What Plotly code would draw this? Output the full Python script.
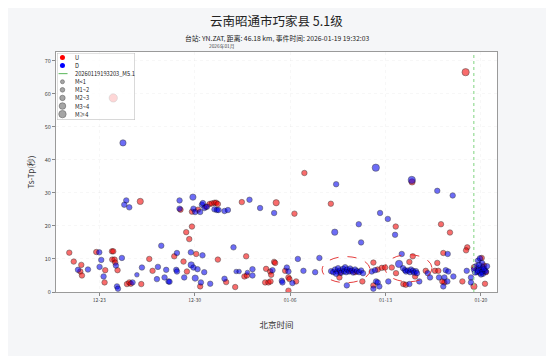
import plotly.graph_objects as go

# ---------------- text ----------------
TITLE = "云南昭通市巧家县 5.1级"
SUBTITLE = "台站: YN.ZAT, 距离: 46.18 km, 事件时间: 2026-01-19 19:32:03"
OFFSET_LABEL = "2026年01月"
X_TITLE = "北京时间"
Y_TITLE = "Ts-Tp(秒)"
EVENT_TIME = "2026-01-19 11:32:03"
EVENT_LABEL = "20260119193203_M5.1"

tick_dates = ["2025-12-23", "2025-12-30", "2026-01-06", "2026-01-13", "2026-01-20"]
tick_labels = ["12-23", "12-30", "01-06", "01-13", "01-20"]
x_range = ["2025-12-19 19:48", "2026-01-21 04:20"]
y_range = [0, 72.6]

mag_labels = ["M<1", "M1~2", "M2~3", "M3~4", "M≥4"]
mag_edges = [1, 2, 3, 4]

# ---------------- U (red) ----------------
u_time = [
    "2025-12-20 19:10", "2025-12-21 03:00", "2025-12-21 16:20", "2025-12-21 14:35", "2025-12-21 17:30",
    "2025-12-22 18:40", "2025-12-23 10:30", "2025-12-23 09:20", "2025-12-23 22:20", "2025-12-24 00:40",
    "2025-12-23 22:50", "2025-12-24 02:55", "2025-12-24 04:05", "2025-12-24 08:10", "2025-12-25 00:45",
    "2025-12-25 04:50", "2025-12-25 07:25", "2025-12-26 00:10", "2025-12-26 01:55", "2025-12-26 16:00",
    "2025-12-26 21:50", "2025-12-24 00:40", "2025-12-28 23:00", "2025-12-29 19:10", "2025-12-30 05:45",
    "2025-12-30 19:40", "2025-12-31 02:10", "2025-12-31 06:15", "2025-12-31 10:50", "2025-12-31 13:55",
    "2025-12-31 16:50", "2026-01-02 11:00", "2026-01-04 23:30", "2025-12-29 19:10", "2025-12-29 09:05",
    "2025-12-29 14:25", "2025-12-28 12:00", "2025-12-30 02:40", "2025-12-29 04:20", "2025-12-31 16:50",
    "2026-01-02 18:40", "2026-01-04 19:55", "2025-12-29 10:20", "2025-12-30 09:40", "2026-01-01 07:25",
    "2026-01-01 23:20", "2026-01-02 15:35", "2026-01-02 19:55", "2026-01-04 05:45", "2026-01-04 12:55",
    "2026-01-04 14:40", "2026-01-04 04:05", "2026-01-04 09:50", "2026-01-04 13:30", "2026-01-07 01:10",
    "2026-01-06 07:40", "2026-01-08 23:45", "2026-01-12 02:40", "2026-01-04 21:40", "2026-01-05 15:20",
    "2026-01-05 21:05", "2026-01-05 22:50", "2026-01-06 10:35", "2026-01-05 21:05", "2026-01-09 14:50",
    "2026-01-11 07:15", "2026-01-12 10:20", "2026-01-12 17:30", "2026-01-12 02:40", "2026-01-09 16:05",
    "2026-01-10 09:40", "2026-01-10 18:25", "2026-01-14 22:45", "2026-01-13 18:00", "2026-01-17 01:45",
    "2026-01-17 17:30", "2026-01-19 00:00", "2026-01-18 21:50", "2026-01-15 00:00", "2026-01-17 05:45",
    "2026-01-20 01:25", "2026-01-14 18:00", "2026-01-12 23:15", "2026-01-13 11:00", "2026-01-13 18:30",
    "2026-01-15 04:05", "2026-01-15 22:50", "2026-01-16 15:10", "2026-01-16 21:05", "2026-01-16 19:10",
    "2026-01-17 07:40", "2026-01-17 04:05", "2026-01-18 15:20", "2026-01-19 11:45", "2026-01-20 07:10",
    "2026-01-14 07:25", "2026-01-14 11:45", "2026-01-18 21:05", "2026-01-19 11:45", "2026-01-20 05:30",
    "2026-01-20 08:50",
]
u_tstp = [
    11.9, 9.2, 8.2, 6.2, 5.0,
    12.1, 6.6, 2.9, 12.3, 12.3,
    9.8, 9.8, 8.9, 6.6, 2.4,
    2.9, 2.5, 27.4, 2.4, 10.0,
    6.4, 58.7, 24.9, 24.3, 24.9,
    25.8, 26.6, 26.8, 27.0, 27.0,
    26.6, 27.2, 27.0, 19.8, 18.1,
    16.0, 10.8, 11.5, 9.2, 9.8,
    10.8, 9.1, 6.2, 1.7, 3.0,
    1.5, 4.7, 5.0, 7.0, 6.2,
    5.2, 2.9, 2.9, 3.2, 36.0,
    23.7, 26.7, 8.9, 8.8, 6.4,
    4.4, 3.9, 3.2, 0.4, 4.4,
    3.2, 6.8, 7.3, 2.0, 5.9,
    6.4, 6.0, 33.3, 19.8, 20.5,
    18.0, 13.5, 12.6, 10.8, 11.8,
    10.3, 9.1, 7.4, 7.4, 5.7,
    4.7, 6.4, 6.4, 6.4, 8.8,
    2.9, 3.2, 3.2, 1.7, 2.5,
    2.4, 2.2, 66.5, 7.5, 8.0,
    6.0,
]
u_mag = [
    1.5, 1.5, 1.5, 1.5, 1.2,
    1.5, 1.5, 1.5, 1.5, 1.5,
    1.5, 1.5, 1.2, 1.2, 1.5,
    1.5, 1.5, 2.5, 1.5, 1.5,
    1.2, 4.2, 1.5, 1.5, 1.5,
    1.5, 1.5, 1.5, 1.5, 1.5,
    1.5, 1.5, 2.5, 1.5, 1.5,
    1.5, 1.5, 1.5, 1.5, 1.5,
    1.5, 1.5, 1.5, 1.5, 1.5,
    1.5, 1.5, 1.5, 1.5, 1.5,
    1.5, 1.5, 1.5, 1.5, 1.5,
    1.5, 1.5, 1.5, 1.5, 1.5,
    1.5, 1.5, 1.5, 1.5, 1.5,
    1.5, 1.5, 1.5, 1.5, 1.5,
    1.5, 1.5, 2.5, 1.5, 1.5,
    1.5, 1.5, 1.5, 1.5, 1.5,
    1.5, 1.5, 1.5, 1.5, 1.2,
    1.5, 1.5, 1.5, 1.5, 1.5,
    1.5, 1.5, 1.5, 2.5, 1.5,
    1.5, 1.5, 3.6, 1.5, 1.5,
    1.5,
]

# ---------------- D (blue) ----------------
d_time = [
    "2025-12-24 17:45", "2025-12-24 23:30", "2025-12-24 20:00", "2025-12-25 04:50", "2025-12-21 10:30",
    "2025-12-22 04:05", "2025-12-23 00:00", "2025-12-23 03:30", "2025-12-23 00:30", "2025-12-23 07:35",
    "2025-12-24 05:20", "2025-12-24 15:50", "2025-12-24 07:10", "2025-12-24 08:55", "2025-12-25 10:35",
    "2025-12-25 18:15", "2025-12-26 03:05", "2025-12-27 07:15", "2025-12-27 13:10", "2025-12-27 05:30",
    "2025-12-27 18:55", "2025-12-27 21:50", "2025-12-28 01:55", "2025-12-28 21:20", "2025-12-29 20:55",
    "2025-12-28 21:20", "2025-12-29 21:50", "2025-12-30 00:55", "2025-12-30 09:40", "2025-12-30 12:40",
    "2025-12-30 14:25", "2025-12-30 17:15", "2025-12-30 21:35", "2025-12-31 10:50", "2025-12-31 15:05",
    "2025-12-31 18:00", "2026-01-01 04:30", "2026-01-01 10:30", "2026-01-03 00:30", "2026-01-03 19:10",
    "2026-01-04 19:55", "2026-01-01 20:20", "2025-12-28 16:45", "2025-12-29 17:15", "2025-12-30 13:45",
    "2025-12-28 15:35", "2025-12-28 16:45", "2025-12-29 17:50", "2025-12-29 21:50", "2025-12-30 05:00",
    "2025-12-30 16:50", "2025-12-28 03:40", "2025-12-29 05:35", "2025-12-30 00:55", "2025-12-30 11:00",
    "2025-12-31 03:20", "2026-01-01 04:30", "2026-01-02 01:00", "2026-01-02 06:15", "2026-01-02 20:55",
    "2026-01-03 05:45", "2026-01-03 05:45", "2026-01-04 17:00", "2026-01-09 09:05", "2026-01-12 06:55",
    "2026-01-12 14:25", "2026-01-13 04:05", "2026-01-11 00:55", "2026-01-09 06:40", "2026-01-11 05:00",
    "2026-01-06 13:40", "2026-01-08 03:35", "2026-01-05 18:15", "2026-01-05 21:05", "2026-01-06 23:30",
    "2026-01-07 20:10", "2026-01-05 09:25", "2026-01-05 10:30", "2026-01-06 04:05", "2026-01-10 03:50",
    # cluster 1
    "2026-01-09 00:15", "2026-01-09 03:50", "2026-01-09 07:10", "2026-01-09 10:50", "2026-01-09 12:30",
    "2026-01-09 16:05", "2026-01-09 17:50", "2026-01-09 21:20", "2026-01-09 23:05", "2026-01-10 00:55",
    "2026-01-10 02:35", "2026-01-10 04:20", "2026-01-10 07:55", "2026-01-10 09:40", "2026-01-10 13:10",
    "2026-01-10 14:55", "2026-01-10 18:25", "2026-01-10 21:50", "2026-01-11 01:25", "2026-01-11 05:00",
    "2026-01-11 08:25", "2026-01-09 09:05",
    "2026-01-11 23:50", "2026-01-12 05:35", "2026-01-12 07:25", "2026-01-12 10:20", "2026-01-12 02:40",
    "2026-01-12 13:10", "2026-01-14 22:15", "2026-01-16 19:10", "2026-01-17 22:20", "2026-01-13 16:50",
    "2026-01-14 04:35", "2026-01-17 13:30", "2026-01-13 23:50",
    # cluster 2
    "2026-01-14 06:55", "2026-01-14 10:20", "2026-01-14 12:10", "2026-01-14 15:40", "2026-01-14 19:10",
    "2026-01-14 20:55", "2026-01-15 00:25", "2026-01-15 02:10", "2026-01-15 05:40", "2026-01-15 07:25",
    "2026-01-16 02:20", "2026-01-16 06:25", "2026-01-17 10:05", "2026-01-17 14:35", "2026-01-16 22:15",
    "2026-01-17 07:40", "2026-01-17 05:45", "2026-01-17 12:55", "2026-01-17 23:30", "2026-01-18 23:00",
    "2026-01-19 06:30", "2026-01-19 06:30", "2026-01-13 05:00", "2026-01-14 18:00", "2026-01-15 11:30",
    # aftershock cluster
    "2026-01-19 18:55", "2026-01-19 22:20", "2026-01-20 01:55", "2026-01-19 15:20", "2026-01-19 20:40",
    "2026-01-20 00:10", "2026-01-20 03:35", "2026-01-20 07:10", "2026-01-19 17:05", "2026-01-19 22:20",
    "2026-01-20 03:35", "2026-01-20 08:55", "2026-01-19 11:45", "2026-01-19 13:40", "2026-01-19 18:55",
    "2026-01-20 01:55", "2026-01-20 05:30", "2026-01-20 10:50", "2026-01-19 20:40", "2026-01-20 00:10",
]
d_tstp = [
    45.1, 27.7, 26.4, 25.6, 6.7,
    6.8, 12.0, 9.7, 7.6, 4.7,
    8.0, 10.3, 1.7, 1.0, 2.9,
    5.2, 7.4, 7.6, 14.0, 3.9,
    4.4, 6.7, 3.2, 27.7, 28.7,
    25.2, 25.2, 24.2, 24.2, 26.4,
    26.9, 25.4, 25.8, 25.0, 24.8,
    24.8, 24.5, 24.8, 27.9, 25.4,
    23.9, 13.5, 11.8, 12.0, 11.1,
    6.7, 6.2, 8.2, 7.4, 6.9,
    6.0, 3.1, 4.4, 4.2, 2.9,
    2.5, 4.0, 6.2, 6.2, 5.9,
    6.9, 5.0, 6.6, 32.6, 37.6,
    23.9, 22.1, 20.5, 18.1, 15.0,
    10.0, 10.3, 7.4, 6.2, 6.4,
    6.0, 3.4, 2.9, 2.7, 2.0,
    6.3, 6.0, 6.8, 6.2, 7.2,
    6.5, 5.8, 7.0, 6.3, 7.5,
    6.0, 6.8, 6.2, 7.1, 6.5,
    5.9, 6.8, 6.3, 6.0, 6.5,
    5.7, 5.5,
    6.2, 6.6, 3.2, 2.9, 1.0,
    1.7, 33.9, 30.6, 29.2, 17.3,
    11.5, 11.5, 8.5,
    7.2, 6.6, 6.2, 6.5, 6.0,
    6.8, 6.4, 5.9, 6.3, 5.7,
    5.7, 4.4, 6.6, 6.2, 4.4,
    4.4, 1.7, 3.2, 4.7, 6.4,
    4.4, 2.9, 3.2, 2.4, 3.2,
    9.5, 10.2, 8.8, 7.8, 7.2,
    6.8, 7.5, 6.5, 6.0, 5.8,
    5.5, 6.2, 6.8, 5.9, 6.4,
    6.1, 7.0, 7.8, 8.2, 5.3,
]
d_mag = [
    2.5, 1.5, 1.5, 1.5, 1.5,
    1.5, 1.5, 1.5, 1.5, 1.5,
    1.5, 1.5, 1.5, 1.5, 1.5,
    0.8, 1.5, 1.5, 1.5, 1.5,
    1.5, 1.5, 1.5, 1.5, 2.5,
    1.5, 1.5, 1.5, 1.5, 1.5,
    1.5, 1.5, 1.5, 1.5, 1.5,
    1.5, 1.5, 1.5, 1.5, 1.5,
    1.5, 1.5, 1.5, 1.5, 1.5,
    1.5, 1.5, 2.5, 1.5, 1.5,
    1.5, 1.5, 1.5, 2.5, 1.5,
    1.5, 1.5, 0.8, 0.8, 0.8,
    1.5, 1.5, 1.5, 1.5, 3.2,
    1.5, 1.5, 1.5, 2.5, 1.5,
    1.5, 1.5, 1.5, 1.5, 1.5,
    1.5, 1.5, 1.5, 1.5, 1.5,
    1.5, 1.5, 1.5, 1.5, 1.5,
    1.5, 1.5, 1.5, 1.5, 1.5,
    1.5, 1.5, 1.5, 1.5, 1.5,
    1.5, 1.5, 1.5, 1.5, 1.5,
    1.5, 1.5,
    1.5, 1.5, 1.5, 1.5, 1.5,
    1.5, 3.0, 1.5, 1.5, 1.5,
    1.5, 1.5, 3.0,
    1.5, 1.5, 1.5, 1.5, 1.5,
    1.5, 1.5, 1.5, 1.5, 1.5,
    1.5, 1.5, 1.5, 1.5, 1.5,
    1.5, 1.5, 1.5, 1.5, 1.5,
    1.5, 1.5, 1.5, 1.5, 1.5,
    1.5, 1.5, 1.5, 1.5, 1.5,
    1.5, 1.5, 1.5, 1.5, 1.5,
    1.5, 1.5, 1.5, 1.5, 1.5,
    1.5, 1.5, 1.5, 1.5, 1.5,
]

# highlighted clusters (dashed ellipses): [start, end, low, high]
ellipse_x0 = ["2026-01-08 08:24", "2026-01-12 23:15"]
ellipse_x1 = ["2026-01-11 20:53", "2026-01-16 09:50"]
ellipse_y0 = [2.8, 3.1]
ellipse_y1 = [10.7, 11.3]

# ---------------- style ----------------
MAG_SIZE = [4.6, 5.5, 6.3, 7.3, 8.3]
LEG_SIZE = [4.0, 4.6, 5.4, 6.6, 7.4]
RED = "rgba(245,0,0,0.82)"
BLUE = "rgba(0,0,240,0.82)"
EDGE = dict(color="rgba(0,0,0,0.85)", width=0.6)
FONT = "Noto Sans CJK SC, Noto Sans, DejaVu Sans, sans-serif"


def size_of(m):
    k = sum(1 for e in mag_edges if m >= e)
    return MAG_SIZE[k]


fig = go.Figure()

fig.add_trace(go.Scatter(
    x=u_time, y=u_tstp, mode="markers", name="U", showlegend=False,
    marker=dict(color=RED, size=[size_of(m) for m in u_mag], line=EDGE),
    xaxis="x", yaxis="y"))
fig.add_trace(go.Scatter(
    x=d_time, y=d_tstp, mode="markers", name="D", showlegend=False,
    marker=dict(color=BLUE, size=[size_of(m) for m in d_mag], line=EDGE),
    xaxis="x", yaxis="y"))

# ----- custom legend drawn on an overlay subplot (0..1 box coordinates) -----
n_items = 8
item_y = [1 - (4.5 + i * 8.1) / 67.0 for i in range(n_items)]
MX, TX = 0.07, 0.205

fig.add_trace(go.Scatter(
    x=[0, 1, 1, 0, 0], y=[0, 0, 1, 1, 0], mode="lines", fill="toself",
    fillcolor="rgba(255,255,255,0.72)", line=dict(color="#b5b5b5", width=0.9),
    showlegend=False, hoverinfo="skip", xaxis="x2", yaxis="y2"))
fig.add_trace(go.Scatter(
    x=[MX, MX], y=item_y[:2], mode="markers", showlegend=False, hoverinfo="skip",
    marker=dict(color=["rgb(255,0,0)", "rgb(0,0,255)"], size=5, line=dict(width=0)),
    xaxis="x2", yaxis="y2"))
fig.add_trace(go.Scatter(
    x=[0.02, 0.135], y=[item_y[2], item_y[2]], mode="lines", showlegend=False,
    hoverinfo="skip", line=dict(color="rgba(60,170,60,0.85)", width=1, dash="dash"),
    xaxis="x2", yaxis="y2"))
fig.add_trace(go.Scatter(
    x=[MX] * 5, y=item_y[3:], mode="markers", showlegend=False, hoverinfo="skip",
    marker=dict(color="#808080", size=LEG_SIZE, line=dict(color="#222", width=0.6)),
    xaxis="x2", yaxis="y2"))

legend_texts = ["U", "D", EVENT_LABEL] + mag_labels
annotations = []
for t, yy in zip(legend_texts, item_y):
    annotations.append(dict(x=TX, y=yy, xref="x2", yref="y2", text=t, showarrow=False,
                            xanchor="left", yanchor="middle",
                            font=dict(size=5.7, color="#222", family=FONT)))

# titles and labels
annotations += [
    dict(x=0.5, y=1.133, xref="paper", yref="paper", text=TITLE, showarrow=False,
         xanchor="center", yanchor="middle", font=dict(size=12.5, color="#222", family=FONT)),
    dict(x=0.5, y=1.058, xref="paper", yref="paper", text=SUBTITLE, showarrow=False,
         xanchor="center", yanchor="middle", font=dict(size=6.8, color="#222", family=FONT)),
    dict(x=0.376, y=1.027, xref="paper", yref="paper", text=OFFSET_LABEL, showarrow=False,
         xanchor="center", yanchor="middle", font=dict(size=4.8, color="#444", family=FONT)),
]

shapes = [
    dict(type="rect", xref="paper", yref="paper", x0=0, x1=1, y0=0, y1=1,
         fillcolor="white", line=dict(width=0), layer="below"),
    dict(type="line", xref="x", yref="paper", x0=EVENT_TIME, x1=EVENT_TIME, y0=0, y1=1,
         line=dict(color="rgb(140,215,140)", width=1.1, dash="dot"), layer="above"),
]
for a, b, c, d in zip(ellipse_x0, ellipse_x1, ellipse_y0, ellipse_y1):
    shapes.append(dict(type="circle", xref="x", yref="y", x0=a, x1=b, y0=c, y1=d,
                       line=dict(color="rgba(225,40,40,0.9)", width=1, dash="dash"),
                       layer="above"))

# the page body has an 8px default margin: size & margins compensate for it
fig.update_layout(
    width=546, height=348,
    margin=dict(l=48, r=57, t=44, b=64, pad=0),
    paper_bgcolor="#f5f6f8",
    plot_bgcolor="rgba(0,0,0,0)",
    font=dict(family=FONT, color="#333"),
    showlegend=False,
    annotations=annotations,
    shapes=shapes,
    xaxis=dict(
        type="date", range=x_range, tickvals=tick_dates, ticktext=tick_labels,
        ticks="outside", ticklen=3, tickwidth=0.8, tickcolor="#888",
        tickfont=dict(size=5, color="#444"),
        showgrid=True, gridcolor="rgba(0,0,0,0.03)", griddash="dot", gridwidth=0.8,
        showline=True, linecolor="#9a9a9a", linewidth=1, mirror=True, zeroline=False,
        title=dict(text=X_TITLE, font=dict(size=8.5, color="#333"), standoff=20),
    ),
    yaxis=dict(
        range=y_range, tickvals=[0, 10, 20, 30, 40, 50, 60, 70],
        ticks="outside", ticklen=3, tickwidth=0.8, tickcolor="#888",
        tickfont=dict(size=5.5, color="#444"),
        showgrid=True, gridcolor="rgba(0,0,0,0.03)", griddash="dot", gridwidth=0.8,
        showline=True, linecolor="#9a9a9a", linewidth=1, mirror=True, zeroline=False,
        title=dict(text=Y_TITLE, font=dict(size=8, color="#333"), standoff=8),
    ),
    xaxis2=dict(domain=[0.0023, 0.179], anchor="y2", range=[0, 1], visible=False,
                fixedrange=True),
    yaxis2=dict(domain=[0.717, 0.996], anchor="x2", range=[0, 1], visible=False,
                fixedrange=True),
)

fig.write_html("out.html")
